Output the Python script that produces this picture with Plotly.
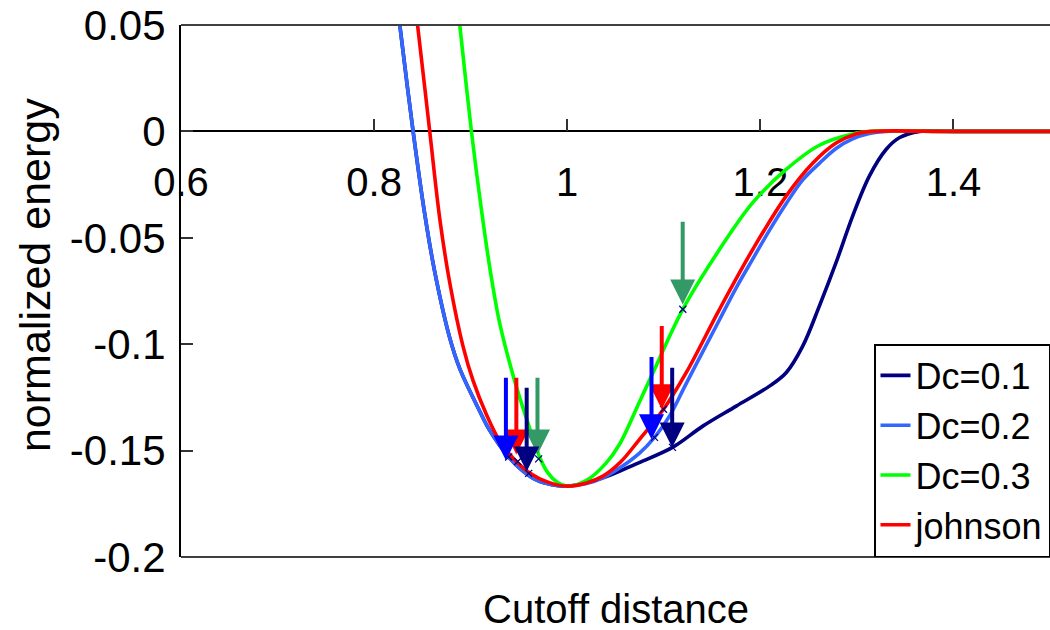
import plotly.graph_objects as go

# ---------------- data ----------------
dc01_x = [0.821, 0.8266, 0.8404, 0.8525, 0.8628, 0.8783, 0.8887, 0.9094, 0.9197, 0.9394,
          0.9539, 0.968, 0.984, 1.000, 1.037, 1.0715, 1.109, 1.1404, 1.175, 1.2094,
          1.2267, 1.2439, 1.2611, 1.2784, 1.2956, 1.3129, 1.3302, 1.3439, 1.365, 1.40, 1.50]
dc01_y = [0.072, 0.050, 0.000, -0.039, -0.066, -0.097, -0.1115, -0.1315, -0.1405, -0.153,
          -0.1595, -0.1638, -0.1660, -0.1667, -0.1628, -0.1562, -0.1485, -0.1385, -0.1291, -0.1197,
          -0.1134, -0.1009, -0.0821, -0.0617, -0.0398, -0.0210, -0.0085, -0.0030, 0.0, 0.0, 0.0]

dc02_x = [0.821, 0.8266, 0.8404, 0.8525, 0.8628, 0.8783, 0.8887, 0.9094, 0.9197, 0.9394,
          0.9539, 0.968, 0.984, 1.000, 1.02, 1.037, 1.055, 1.0749, 1.0904, 1.1059,
          1.1232, 1.1404, 1.1577, 1.175, 1.1921, 1.2094, 1.2267, 1.2439, 1.2611, 1.2784,
          1.2956, 1.3129, 1.33, 1.40, 1.50]
dc02_y = [0.072, 0.050, 0.000, -0.039, -0.066, -0.097, -0.1115, -0.1315, -0.1405, -0.153,
          -0.1595, -0.1638, -0.1660, -0.1667, -0.1655, -0.1628, -0.1580, -0.1512, -0.1438, -0.1338,
          -0.1185, -0.1035, -0.0885, -0.0735, -0.0600, -0.0465, -0.0340, -0.0228, -0.0150, -0.0080,
          -0.0035, -0.0010, 0.0, 0.0, 0.0]

dc03_x = [0.885, 0.8887, 0.9008, 0.9115, 0.9205, 0.930, 0.9438, 0.9542, 0.9645, 0.9714,
          0.980, 0.990, 1.000, 1.02, 1.04, 1.0542, 1.0749, 1.0887, 1.1197, 1.1577,
          1.1921, 1.2267, 1.2611, 1.2956, 1.315, 1.40, 1.50]
dc03_y = [0.065, 0.050, 0.000, -0.038, -0.066, -0.090, -0.1145, -0.1300, -0.1440, -0.1530,
          -0.1605, -0.1650, -0.1667, -0.1640, -0.1560, -0.1470, -0.1270, -0.1135, -0.0836, -0.0555,
          -0.0335, -0.0179, -0.0065, -0.0012, 0.0, 0.0, 0.0]

johnson_x = [0.840, 0.845, 0.8576, 0.868, 0.8783, 0.8921, 0.9024, 0.9163, 0.930, 0.9438,
             0.9611, 0.980, 1.000, 1.02, 1.037, 1.055, 1.0749, 1.0997, 1.1232, 1.1577,
             1.1921, 1.2267, 1.2542, 1.2784, 1.2991, 1.315, 1.40, 1.50]
johnson_y = [0.068, 0.050, 0.000, -0.041, -0.071, -0.101, -0.117, -0.1330, -0.1455, -0.1535,
             -0.1605, -0.1648, -0.1667, -0.1652, -0.1620, -0.1555, -0.1447, -0.1306, -0.1134, -0.0836,
             -0.0555, -0.0304, -0.0150, -0.0055, -0.0012, 0.0, 0.0, 0.0]

cross_x = [0.9394, 0.9487, 0.9601, 0.9704, 1.0904, 1.0997, 1.1090, 1.1197]
cross_y = [-0.1530, -0.1551, -0.1607, -0.1539, -0.1438, -0.1306, -0.1485, -0.0836]

# arrows: tip (x, y) and tail y
arrow_x = [0.9692, 0.9473, 0.9365, 0.9580, 1.1196, 1.0979, 1.0873, 1.1087]
arrow_tip_y = [-0.1518, -0.1518, -0.1546, -0.1598, -0.0813, -0.1306, -0.1447, -0.1485]
arrow_tail_y = [-0.1151, -0.1151, -0.1151, -0.1198, -0.0418, -0.0907, -0.1053, -0.1104]
arrow_colors = ["#339966", "#FF0000", "#0000FF", "#000080",
                "#339966", "#FF0000", "#0000FF", "#000080"]

series_names = ["Dc=0.1", "Dc=0.2", "Dc=0.3", "johnson"]
series_colors = ["#000080", "#3366FF", "#00FF00", "#FF0000"]

x_tickvals = [0.6, 0.8, 1.0, 1.2, 1.4]
x_ticktext = ["0.6", "0.8", "1", "1.2", "1.4"]
y_tickvals = [-0.2, -0.15, -0.1, -0.05, 0, 0.05]
y_ticktext = ["-0.2", "-0.15", "-0.1", "-0.05", "0", "0.05"]

FONT = "Liberation Sans, Arial, sans-serif"

fig = go.Figure()
for xs, ys, name, col in zip([dc01_x, dc02_x, dc03_x, johnson_x],
                             [dc01_y, dc02_y, dc03_y, johnson_y],
                             series_names, series_colors):
    fig.add_trace(go.Scatter(x=xs, y=ys, mode="lines", name=name,
                             line=dict(color=col, width=3.6, shape="spline", smoothing=1.0)))

fig.add_trace(go.Scatter(x=cross_x, y=cross_y, mode="markers", showlegend=False,
                         marker=dict(symbol="x-thin", size=7,
                                     line=dict(color="#000080", width=1.3))))

for ax_, tip, tail, col in zip(arrow_x, arrow_tip_y, arrow_tail_y, arrow_colors):
    fig.add_annotation(x=ax_, y=tip, ax=ax_, ay=tail, xref="x", yref="y",
                       axref="x", ayref="y", text="", showarrow=True,
                       arrowhead=2, arrowsize=1.25, arrowwidth=4, arrowcolor=col,
                       standoff=0, startstandoff=0)

# axis titles
fig.add_annotation(text="Cutoff distance", xref="paper", yref="paper",
                   x=0.5, y=-0.097, xanchor="center", yanchor="middle",
                   showarrow=False, font=dict(family=FONT, size=40, color="black"))
fig.add_annotation(text="normalized energy", xref="paper", yref="paper",
                   x=-0.168, y=0.53, xanchor="center", yanchor="middle", textangle=-90,
                   showarrow=False, font=dict(family=FONT, size=43, color="black"))

# frame lines (top and bottom)
fig.add_shape(type="line", xref="paper", yref="paper", x0=0, x1=1, y0=1, y1=1,
              line=dict(color="#404040", width=2))
fig.add_shape(type="line", xref="paper", yref="paper", x0=0, x1=1, y0=0, y1=0,
              line=dict(color="black", width=1.5))

fig.update_layout(
    width=1050, height=630,
    margin=dict(l=181, r=0, t=25, b=73),
    paper_bgcolor="white", plot_bgcolor="white",
    font=dict(family=FONT, color="black"),
    showlegend=True,
    legend=dict(x=1, y=0, xanchor="right", yanchor="bottom",
                bgcolor="white", bordercolor="black", borderwidth=1.5,
                font=dict(family=FONT, size=36, color="black"),
                tracegroupgap=0),
    xaxis=dict(range=[0.6, 1.5], anchor="free", position=0.8,
               showline=True, linecolor="black", linewidth=1.5,
               ticks="inside", ticklen=12, tickwidth=1.5, tickcolor="#333333",
               tickvals=x_tickvals, ticktext=x_ticktext,
               tickfont=dict(family=FONT, size=40, color="black"),
               ticklabelstandoff=16,
               showgrid=False, zeroline=False, layer="below traces"),
    yaxis=dict(range=[-0.2, 0.05],
               showline=True, linecolor="black", linewidth=2,
               ticks="inside", ticklen=12, tickwidth=1.5, tickcolor="#333333",
               tickvals=y_tickvals, ticktext=y_ticktext,
               tickfont=dict(family=FONT, size=42, color="black"),
               ticklabelstandoff=5,
               showgrid=False, zeroline=False),
)

fig.write_html("out.html")
